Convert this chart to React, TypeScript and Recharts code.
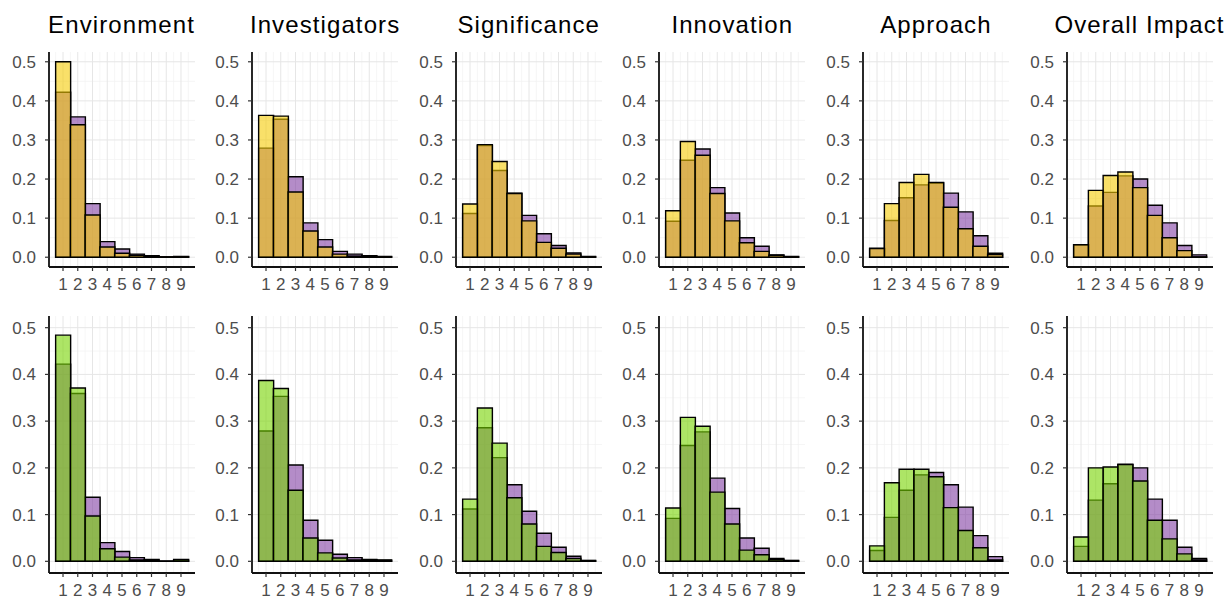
import React from 'react';
import { BarChart, Bar, XAxis, YAxis, CartesianGrid } from 'recharts';

// ---------- data ----------
const scores = [1, 2, 3, 4, 5, 6, 7, 8, 9];
const criteria = ['Environment', 'Investigators', 'Significance', 'Innovation', 'Approach', 'Overall Impact'];
const yTicks = [0, 0.1, 0.2, 0.3, 0.4, 0.5];
const yMinor = [0.05, 0.15, 0.25, 0.35, 0.45];
const xMinor = [0.5, 1.5, 2.5, 3.5, 4.5, 5.5, 6.5, 7.5, 8.5, 9.5];

// purple = reference distribution (shown in both rows)
const environmentPurple = [0.422, 0.359, 0.137, 0.040, 0.021, 0.008, 0.004, 0.001, 0.002];
const investigatorsPurple = [0.279, 0.353, 0.206, 0.088, 0.045, 0.015, 0.008, 0.004, 0.002];
const significancePurple = [0.112, 0.286, 0.222, 0.164, 0.107, 0.060, 0.030, 0.011, 0.002];
const innovationPurple = [0.092, 0.248, 0.277, 0.178, 0.113, 0.050, 0.028, 0.006, 0.002];
const approachPurple = [0.023, 0.094, 0.152, 0.185, 0.190, 0.164, 0.116, 0.055, 0.010];
const overallPurple = [0.032, 0.131, 0.166, 0.208, 0.200, 0.133, 0.088, 0.030, 0.006];

// yellow = top row group
const environmentYellow = [0.500, 0.339, 0.108, 0.026, 0.010, 0.005, 0.002, 0.001, 0.001];
const investigatorsYellow = [0.363, 0.361, 0.167, 0.067, 0.026, 0.008, 0.003, 0.002, 0.001];
const significanceYellow = [0.136, 0.288, 0.245, 0.163, 0.093, 0.038, 0.023, 0.008, 0.001];
const innovationYellow = [0.119, 0.296, 0.261, 0.163, 0.093, 0.037, 0.015, 0.005, 0.001];
const approachYellow = [0.022, 0.137, 0.191, 0.212, 0.191, 0.128, 0.073, 0.028, 0.007];
const overallYellow = [0.032, 0.171, 0.209, 0.218, 0.178, 0.107, 0.050, 0.017, 0.001];

// green = bottom row group
const environmentGreen = [0.484, 0.371, 0.097, 0.027, 0.009, 0.003, 0.002, 0.000, 0.004];
const investigatorsGreen = [0.387, 0.370, 0.152, 0.050, 0.018, 0.007, 0.003, 0.003, 0.003];
const significanceGreen = [0.133, 0.328, 0.253, 0.136, 0.080, 0.032, 0.019, 0.006, 0.001];
const innovationGreen = [0.114, 0.308, 0.289, 0.148, 0.080, 0.024, 0.014, 0.004, 0.001];
const approachGreen = [0.033, 0.168, 0.197, 0.197, 0.181, 0.115, 0.066, 0.029, 0.003];
const overallGreen = [0.052, 0.200, 0.202, 0.207, 0.172, 0.088, 0.048, 0.016, 0.003];

const purpleSeries = [environmentPurple, investigatorsPurple, significancePurple, innovationPurple, approachPurple, overallPurple];
const yellowSeries = [environmentYellow, investigatorsYellow, significanceYellow, innovationYellow, approachYellow, overallYellow];
const greenSeries = [environmentGreen, investigatorsGreen, significanceGreen, innovationGreen, approachGreen, overallGreen];

// ---------- layout / style ----------
const PURPLE = '#823fa3';
const YELLOW = '#f5cc05';
const GREEN = '#76d400';
const ALPHA = 0.6;
const FONT = '"Liberation Sans", Arial, Helvetica, sans-serif';
const Y_AXIS_W = 48;
const X_AXIS_H = 32;
const PLOT_W = 146;
const PLOT_LEFT0 = 48.5;
const PLOT_STEP = 203.6;
const ROWS = [
  { top: 52, height: 215 },
  { top: 316, height: 257 },
];

const tickStyle = { fill: '#4d4d4d', fontSize: 17, fontFamily: FONT };

type PanelProps = {
  left: number;
  top: number;
  height: number;
  purple: number[];
  light: number[];
  lightColor: string;
};

function Panel({ left, top, height, purple, light, lightColor }: PanelProps) {
  const data = scores.map((s, i) => ({ score: s, purple: purple[i], light: light[i] }));
  return (
    <div style={{ position: 'absolute', left: left - Y_AXIS_W, top }}>
      <BarChart
        width={Y_AXIS_W + PLOT_W}
        height={height + X_AXIS_H}
        data={data}
        margin={{ top: 0, right: 0, bottom: 0, left: 0 }}
        barCategoryGap={0}
        style={{ overflow: 'visible' }}
      >
        <CartesianGrid
          xAxisId="a"
          stroke="#f2f2f2"
          strokeWidth={0.7}
          horizontalValues={yMinor}
          verticalValues={xMinor}
        />
        <CartesianGrid
          xAxisId="a"
          stroke="#e6e6e6"
          strokeWidth={1}
          horizontalValues={yTicks}
          verticalValues={scores}
        />
        <XAxis
          xAxisId="a"
          dataKey="score"
          type="number"
          domain={[0.05, 9.95]}
          allowDataOverflow
          ticks={scores}
          interval={0}
          tickSize={4}
          tickMargin={7}
          height={X_AXIS_H}
          tick={tickStyle}
          axisLine={{ stroke: '#111', strokeWidth: 1.8 }}
          tickLine={{ stroke: '#333', strokeWidth: 1.2 }}
        />
        <XAxis
          xAxisId="b"
          dataKey="score"
          type="number"
          domain={[0.05, 9.95]}
          allowDataOverflow
          hide
        />
        <YAxis
          type="number"
          domain={[-0.025, 0.525]}
          allowDataOverflow
          ticks={yTicks}
          interval={0}
          width={Y_AXIS_W}
          tickSize={4}
          tickMargin={9}
          tick={tickStyle}
          tickFormatter={(v: number) => v.toFixed(1)}
          axisLine={{ stroke: '#111', strokeWidth: 1.8 }}
          tickLine={{ stroke: '#333', strokeWidth: 1.2 }}
        />
        <Bar
          xAxisId="a"
          dataKey="purple"
          fill={PURPLE}
          fillOpacity={ALPHA}
          stroke="#000"
          strokeWidth={1.4}
          isAnimationActive={false}
        />
        <Bar
          xAxisId="b"
          dataKey="light"
          fill={lightColor}
          fillOpacity={ALPHA}
          stroke="#000"
          strokeWidth={1.4}
          isAnimationActive={false}
        />
      </BarChart>
    </div>
  );
}

export default function App() {
  const lefts = criteria.map((_, i) => PLOT_LEFT0 + i * PLOT_STEP);
  return (
    <div style={{ position: 'relative', width: 1228, height: 599, background: '#fff', overflow: 'hidden' }}>
      <style>{'body{margin:0;background:#fff;}'}</style>
      <svg width={1228} height={50} style={{ position: 'absolute', left: 0, top: 0 }}>
        {criteria.map((c, i) => (
          <text
            key={c}
            x={lefts[i] + PLOT_W / 2}
            y={33}
            textAnchor="middle"
            fontSize={24}
            letterSpacing={1.1}
            fontFamily={FONT}
            fill="#000"
          >
            {c}
          </text>
        ))}
      </svg>
      {criteria.map((c, i) => (
        <Panel
          key={'top-' + c}
          left={lefts[i]}
          top={ROWS[0].top}
          height={ROWS[0].height}
          purple={purpleSeries[i]}
          light={yellowSeries[i]}
          lightColor={YELLOW}
        />
      ))}
      {criteria.map((c, i) => (
        <Panel
          key={'bottom-' + c}
          left={lefts[i]}
          top={ROWS[1].top}
          height={ROWS[1].height}
          purple={purpleSeries[i]}
          light={greenSeries[i]}
          lightColor={GREEN}
        />
      ))}
    </div>
  );
}
